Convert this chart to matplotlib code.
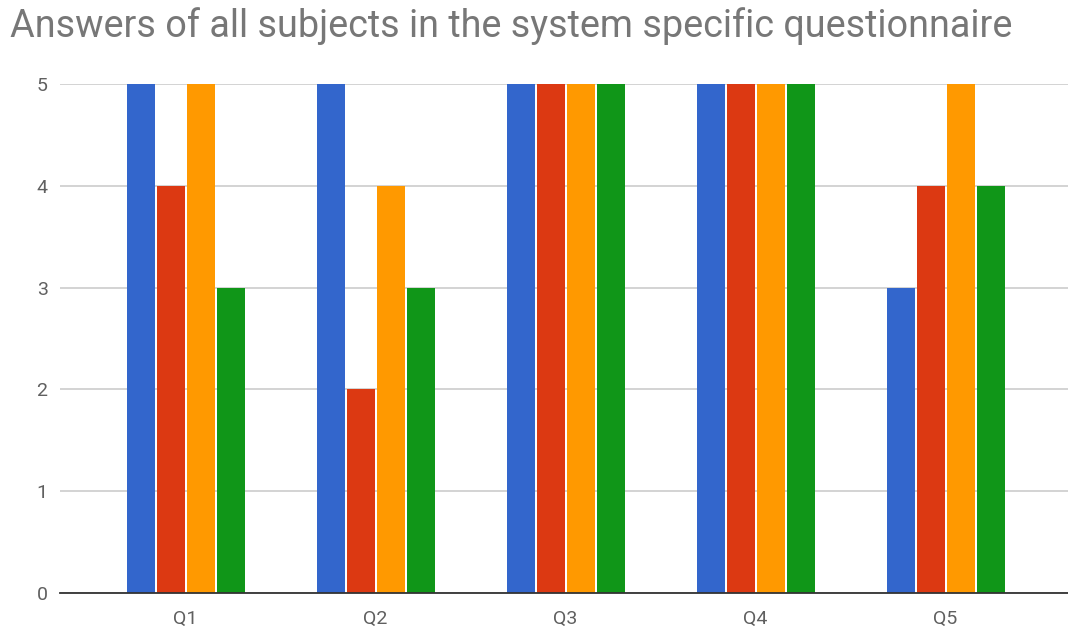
import matplotlib.pyplot as plt
import numpy as np

# survey answers per question, one series per subject
questions = ["Q1", "Q2", "Q3", "Q4", "Q5"]
subject_1 = [5, 5, 5, 5, 3]
subject_2 = [4, 2, 5, 5, 4]
subject_3 = [5, 4, 5, 5, 5]
subject_4 = [3, 3, 5, 5, 4]
series = [subject_1, subject_2, subject_3, subject_4]
colors = ["#3366cc", "#dc3912", "#ff9900", "#109618"]

plt.rcParams["font.family"] = ["Roboto", "DejaVu Sans"]

fig = plt.figure(figsize=(10.68, 6.32), dpi=100)
ax = fig.add_axes([60 / 1068, 39 / 632, 1008 / 1068, 509 / 632])

x = np.arange(len(questions))
step = 30 / 190
width = 28 / 190
for i, (vals, c) in enumerate(zip(series, colors)):
    ax.bar(x + (i - 1.5) * step + 1 / 190, vals, width=width, color=c, zorder=3)

ax.set_xlim(-0.66, 4.645)
ax.set_ylim(0, 5)
ax.set_yticks(range(6))
ax.set_xticks(x)
ax.set_xticklabels(questions)
ax.yaxis.grid(True, color="#cccccc", linewidth=1.2, zorder=0)
ax.tick_params(axis="both", length=0, labelsize=14, labelcolor="#606060")
ax.tick_params(axis="y", pad=9)
ax.tick_params(axis="x", pad=12)
for side in ["top", "right", "left"]:
    ax.spines[side].set_visible(False)
ax.spines["bottom"].set_color("#333333")
ax.spines["bottom"].set_linewidth(1.3)
ax.spines["bottom"].set_zorder(4)

fig.text(10 / 1068, 1 - 37 / 632, "Answers of all subjects in the system specific questionnaire",
         fontsize=27.2, color="#777777", va="baseline", ha="left")

fig.savefig("out.png", dpi=100)
